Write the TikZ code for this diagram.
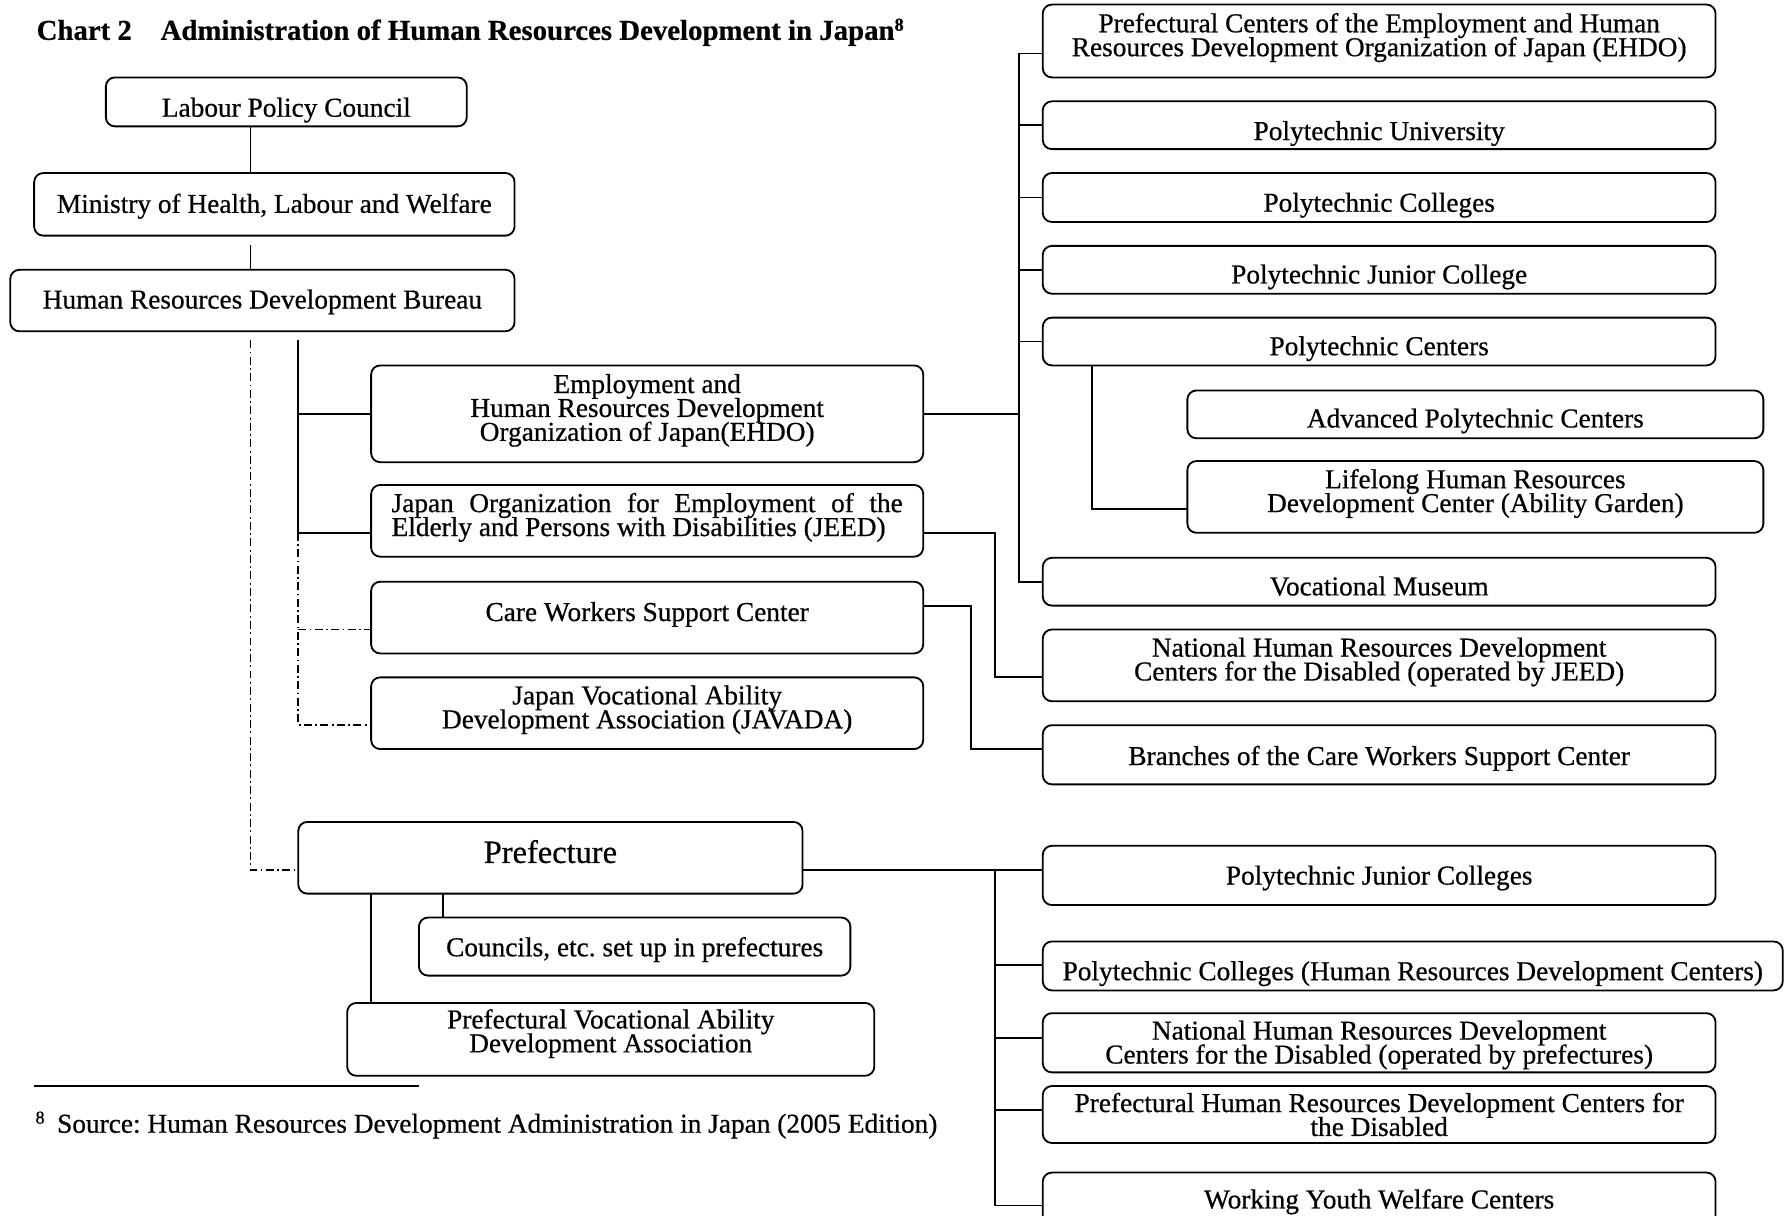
\documentclass[tikz,border=0pt]{standalone}
\usepackage{fontspec}
\setmainfont{Liberation Serif}[FakeBold=0.6]
\usetikzlibrary{calc}
\tikzset{
  bx/.style={draw, line width=1.6pt, rounded corners=8pt, inner sep=0pt, outer sep=0pt,
    font=\fontsize{24}{21}\selectfont},
  cn/.style={line width=1.6pt},
  dd/.style={line width=1.5pt, dash pattern=on 7pt off 3pt on 1.5pt off 3pt},
}
% name x1 y1 x2 y2 baseline text
\newcommand\onebox[8][]{%
  \pgfmathsetmacro\mywd{#5-#3}\pgfmathsetmacro\myht{#7-#4}\pgfmathsetmacro\mydp{#6-#7}%
  \node[bx, anchor=north west, minimum width=\mywd pt, text height=\myht pt, text depth=\mydp pt, #1] (#2) at (#3,#4) {#8};}
% [raise] name x1 y1 x2 y2 text
\newcommand\twobox[7][3pt]{%
  \pgfmathsetmacro\mywd{#5-#3}\pgfmathsetmacro\myhh{#6-#4}\pgfmathsetmacro\mytw{#5-#3-4}%
  \node[bx, anchor=north west, minimum width=\mywd pt, minimum height=\myhh pt] (#2) at (#3,#4)
    {\raisebox{#1}[\height][\depth]{\parbox{\mytw pt}{\centering #7}}};}
\begin{document}
\frenchspacing
\lineskiplimit=-50pt
\normallineskiplimit=-50pt
\begin{tikzpicture}[x=1pt, y=-1pt]
\useasboundingbox (0,0) rectangle (1568,1068);

% title
\node[anchor=base west, inner sep=0pt, font=\fontsize{25.3}{26}\selectfont\bfseries] (title) at (32,35)
  {Chart 2\hspace{1em}Administration of Human Resources Development in Japan\raisebox{8pt}{\fontsize{16}{16}\selectfont 8}};

% left column
\onebox{lpc}{93}{68}{410}{111}{102.5}{Labour Policy Council}
\onebox{min}{30}{152}{452}{207}{187}{Ministry of Health, Labour and Welfare}
\onebox{bur}{9}{237}{452}{291}{271}{Human Resources Development Bureau\hspace{16pt}}

\twobox{ehdo}{326}{321}{811}{406}{Employment and\\Human Resources Development\\Organization of Japan(EHDO)}
\node[bx, anchor=north west, minimum width=485pt, minimum height=63pt] (jeed) at (326,426)
  {\raisebox{3pt}[\height][\depth]{\parbox{449pt}{Japan Organization for Employment of the\linebreak Elderly and Persons with Disabilities (JEED)}}};
\onebox{care}{326}{511}{811}{574}{545.5}{Care Workers Support Center}
\twobox{jav}{326}{595}{811}{658}{Japan Vocational Ability\\Development Association (JAVADA)}

% right column (national)
\twobox{prc}{916}{4}{1507}{68}{Prefectural Centers of the Employment and Human\\Resources Development Organization of Japan (EHDO)}
\onebox{pu}{916}{89}{1507}{131}{123}{Polytechnic University}
\onebox{pcol}{916}{152}{1507}{195}{186}{Polytechnic Colleges}
\onebox{pjc}{916}{216}{1507}{258}{249}{Polytechnic Junior College}
\onebox{pc}{916}{279}{1507}{321}{312}{Polytechnic Centers}
\onebox{adv}{1043}{343}{1549}{385}{375.5}{Advanced Polytechnic Centers}
\twobox{life}{1043}{405}{1549}{468}{Lifelong Human Resources\\Development Center (Ability Garden)}
\onebox{vm}{916}{490}{1507}{532}{523}{Vocational Museum}
\twobox{nat1}{916}{553}{1507}{616}{National Human Resources Development\\Centers for the Disabled (operated by JEED)}
\onebox{brn}{916}{637}{1507}{689}{672}{Branches of the Care Workers Support Center}

% prefecture
\onebox[font=\fontsize{28.5}{30}\selectfont]{pref}{262}{722}{705}{785}{758}{Prefecture}
\onebox{cou}{368}{806}{747}{857}{840}{Councils, etc. set up in prefectures}
\twobox[5pt]{pva}{305}{881}{768}{945}{Prefectural Vocational Ability\\Development Association}

\onebox{pjcs}{916}{743}{1507}{795}{777}{Polytechnic Junior Colleges}
\onebox{pch}{916}{827}{1566}{870}{861}{Polytechnic Colleges (Human Resources Development Centers)}
\twobox[-2pt]{nat2}{916}{890}{1507}{942}{National Human Resources Development\\Centers for the Disabled (operated by prefectures)}
\twobox[0pt]{phd}{916}{954}{1507}{1004}{Prefectural Human Resources Development Centers for\\the Disabled}
\onebox{wy}{916}{1030}{1507}{1082}{1061.5}{Working Youth Welfare Centers}

% spine coordinates
\coordinate (xa) at (220,0);
\coordinate (xb) at (262,0);
\coordinate (xc) at (895,0);
\coordinate (xd) at (959,0);
\coordinate (xe) at (874,0);
\coordinate (xf) at (853,0);

% connectors, left
\draw[cn] (lpc.south -| xa) -- (min.north -| xa);
\draw[cn] (xa |- 0,215) -- (bur.north -| xa);
\draw[dd] (xa |- 0,299) |- (pref.west |- 0,764);
\draw[cn] (xb |- 0,299) |- (jeed.west |- 0,468);
\draw[cn] (ehdo.west -| xb) -- (ehdo.west);
\draw[dd] (xb |- 0,468) -- (xb |- 0,637) -- (jav.west |- 0,637);
\draw[dd] (xb |- 0,553) -- (care.west |- 0,553);

% connectors, EHDO
\draw[cn] (ehdo.east) -- (ehdo.east -| xc);
\draw[cn] (prc.west |- 0,47) -| (xc |- vm.west) -- (vm.west);
\foreach \n in {pu,pcol,pjc,pc} \draw[cn] (\n.west) -- (\n.west -| xc);
\draw[cn] (pc.south -| xd) |- (life.west |- 0,447);

% connectors, JEED and care
\draw[cn] (jeed.east |- 0,468) -| (xe |- 0,595) -- (nat1.west |- 0,595);
\draw[cn] (care.east |- 0,532) -| (xf |- 0,658) -- (brn.west |- 0,658);

% connectors, prefecture
\draw[cn] (pref.east |- 0,764) -- (pjcs.west |- 0,764);
\draw[cn] (xe |- 0,764) |- (wy.west |- 0,1059);
\draw[cn] (xe |- 0,848) -- (pch.west |- 0,848);
\draw[cn] (xe |- 0,912) -- (nat2.west |- 0,912);
\draw[cn] (xe |- 0,975) -- (phd.west |- 0,975);
\draw[cn] (pref.south -| 389,0) -- (cou.north -| 389,0);
\draw[cn] (pref.south -| 326,0) -- (pva.north -| 326,0);

% footnote
\coordinate (r1) at (30,954);
\coordinate (r2) at (368,954);
\draw[line width=1.6pt] (r1) -- (r2);
\node[anchor=base west, inner sep=0pt, font=\fontsize{24}{26}\selectfont] (fn) at (31,995)
  {\raisebox{8pt}{\fontsize{16}{16}\selectfont 8}\hspace{11pt}Source: Human Resources Development Administration in Japan (2005 Edition)};
\end{tikzpicture}
\end{document}
